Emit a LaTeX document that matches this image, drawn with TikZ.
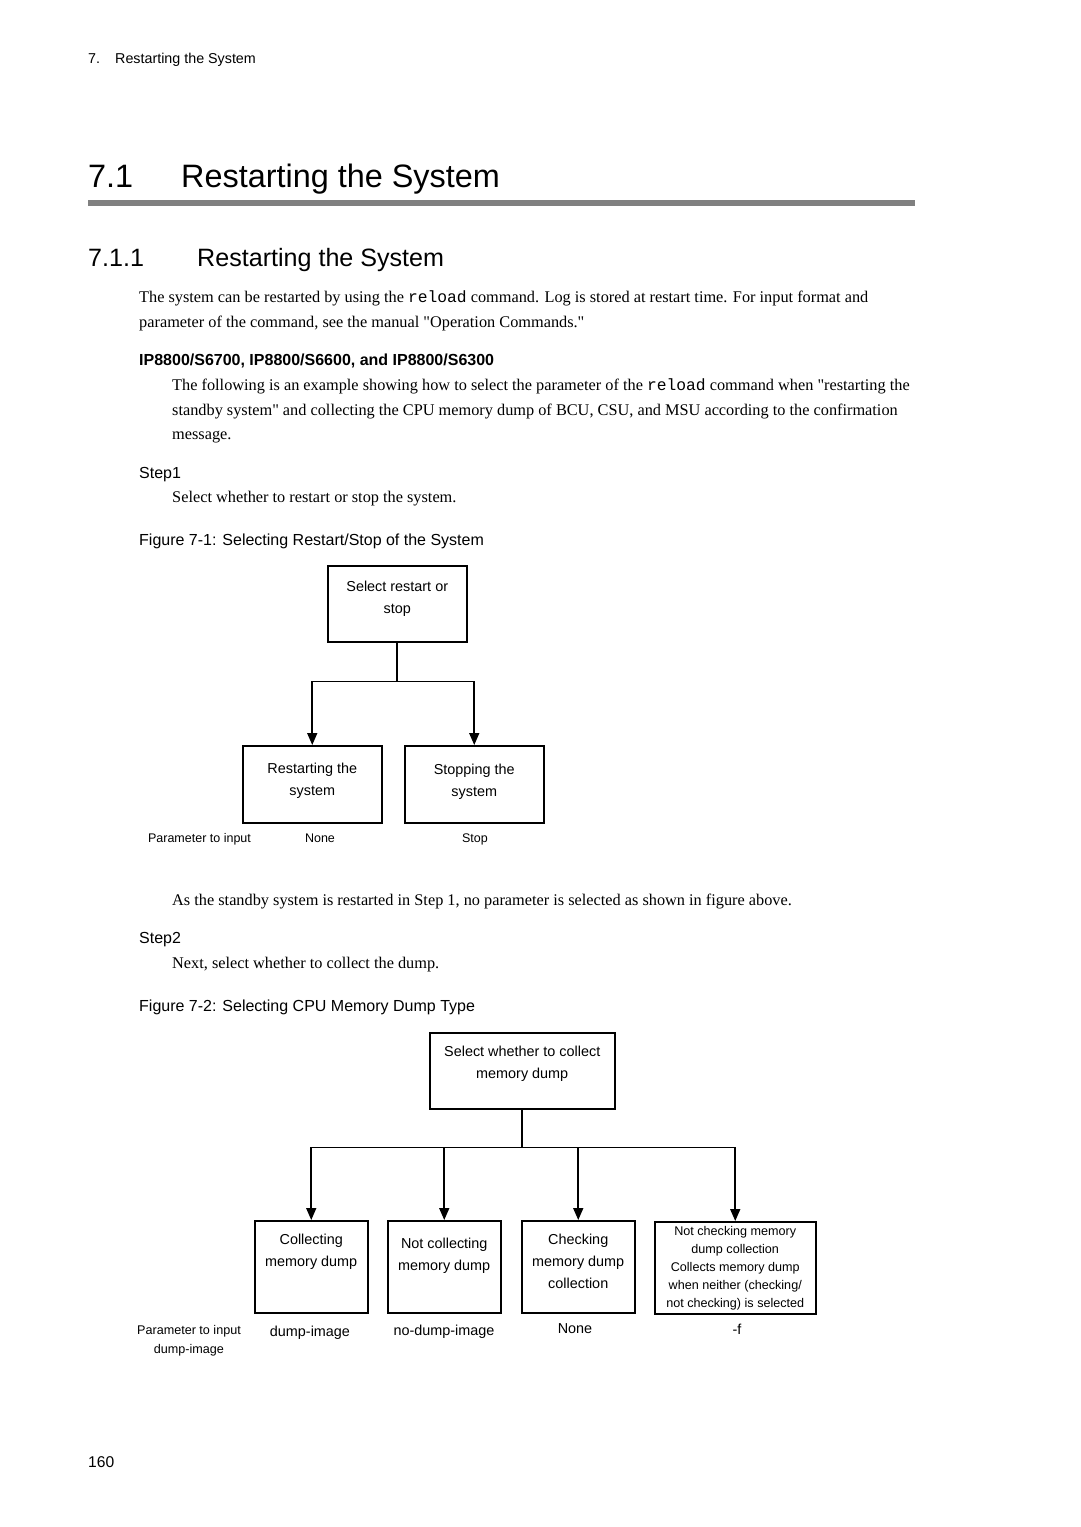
\documentclass[tikz,border=0pt]{standalone}
\usepackage{fontspec}
\setmainfont{Liberation Serif}[Ligatures=TeXOff]
\setsansfont{Liberation Sans}
\setmonofont{Liberation Mono}
\usetikzlibrary{arrows.meta}

\begin{document}
\begin{tikzpicture}
[x=1pt,y=-1pt,
  boxdecorate/.style={shape=rectangle,draw,line width=1.5pt,inner sep=0pt,anchor=north west,align=center,font=\sffamily\fontsize{14.4}{22}\selectfont},%
  linedecorate/.style={-,line width=1.6pt},%
  arrowdecorate/.style={-{Triangle[length=12pt,width=10pt]},line width=1.6pt},%
  bodytext/.style={anchor=base west,inner sep=0pt,font=\fontsize{16.3}{16.3}\selectfont},%
  headtext/.style={anchor=base west,inner sep=0pt,font=\sffamily\fontsize{16}{16}\selectfont},%
  paramtext/.style={anchor=base,inner sep=0pt,font=\sffamily\fontsize{12.5}{19}\selectfont},%
  choicetext/.style={anchor=base,inner sep=0pt,font=\sffamily\fontsize{14.4}{19}\selectfont}]
\fill[white] (0,0) rectangle (1080,1527);
\useasboundingbox (0,0) rectangle (1080,1527);
%% page header and section titles
\node[anchor=base west,inner sep=0pt,font=\sffamily\fontsize{14.3}{14.3}\selectfont] (hdrnum) at (88,63) {7.};
\node[anchor=base west,inner sep=0pt,font=\sffamily\fontsize{14.3}{14.3}\selectfont] (hdrtitle) at (115,63) {Restarting the System};
\node[anchor=base west,inner sep=0pt,font=\sffamily\fontsize{32.4}{32.4}\selectfont] (secnum) at (88,187) {7.1};
\node[anchor=base west,inner sep=0pt,font=\sffamily\fontsize{32.4}{32.4}\selectfont] (sectitle) at (181,187) {Restarting the System};
\fill[black!50] (88,200) rectangle (915,205.5);
\node[anchor=base west,inner sep=0pt,font=\sffamily\fontsize{25.1}{25.1}\selectfont] (subnum) at (88,266) {7.1.1};
\node[anchor=base west,inner sep=0pt,font=\sffamily\fontsize{25.1}{25.1}\selectfont] (subtitle) at (197,266) {Restarting the System};
%% body text lines
\foreach \nodename/\x/\y/\txt in {
  %% introduction
  intro1/139/302/{The system can be restarted by using the \texttt{reload} command. Log is stored at restart time. For input format and},
  intro2/139/327/{parameter of the command, see the manual "Operation Commands."},
  %% model paragraph
  model1/172/390/{The following is an example showing how to select the parameter of the \texttt{reload} command when "restarting the},
  model2/172/415/{standby system" and collecting the CPU memory dump of BCU, CSU, and MSU according to the confirmation},
  model3/172/439/{message.},
  %% steps
  step1text/172/502/{Select whether to restart or stop the system.},
  result1/172/905/{As the standby system is restarted in Step 1, no parameter is selected as shown in figure above.},
  step2text/172/968/{Next, select whether to collect the dump.}} {
  \node[bodytext] (\nodename) at (\x,\y) {\txt};
}
\foreach \nodename/\x/\y/\txt in {
  step1/139/478/{Step1},
  caption1/139/545/{Figure 7-1: Selecting Restart/Stop of the System},
  step2/139/943/{Step2},
  caption2/139/1011/{Figure 7-2: Selecting CPU Memory Dump Type}} {
  \node[headtext] (\nodename) at (\x,\y) {\txt};
}
\node[headtext,font=\sffamily\bfseries\fontsize{16}{16}\selectfont] (models) at (139,365) {IP8800/S6700, IP8800/S6600, and IP8800/S6300};
%% figure 7-1
\node[boxdecorate,minimum width=139,minimum height=76,text depth=13] (selrestart) at (327,565) {Select restart or\\stop};
\node[boxdecorate,minimum width=139,minimum height=77,text depth=10] (restart) at (242,745) {Restarting the\\system};
\node[boxdecorate,minimum width=139,minimum height=77,text depth=8] (stop) at (404,745) {Stopping the\\system};
\draw[linedecorate] (selrestart.south) -- ++(0,39) coordinate (split1);
\foreach \endnode in {restart,stop} {
  \draw[arrowdecorate] (split1) -| (\endnode.north);
}
\node[paramtext] (param1) at (199.5,842) {Parameter to input};
\node[paramtext] (none1) at (320,842) {None};
\node[paramtext] (stop1) at (475,842) {Stop};
%% figure 7-2
\node[boxdecorate,minimum width=185,minimum height=76,text depth=17] (dumpsel) at (429,1032) {Select whether to collect\\memory dump};
\node[boxdecorate,minimum width=113,minimum height=92,text depth=32] (collect) at (254,1220) {Collecting\\memory dump};
\node[boxdecorate,minimum width=113,minimum height=92,text depth=25] (nocollect) at (387,1220) {Not collecting\\memory dump};
\node[boxdecorate,minimum width=113,minimum height=92,text depth=11] (check) at (521,1220) {Checking\\memory dump\\collection};
\node[boxdecorate,minimum width=161,minimum height=92,font=\sffamily\fontsize{12.6}{18}\selectfont] (nocheck) at (654,1221) {Not checking memory\\dump collection\\Collects memory dump\\when neither (checking/\\not checking) is selected};
\draw[linedecorate] (dumpsel.south) -- ++(0,38) coordinate (split2);
\foreach \endnode in {collect,nocollect,check,nocheck} {
  \draw[arrowdecorate] (split2) -| (\endnode.north);
}
\node[paramtext,anchor=north,align=center,font=\sffamily\fontsize{12.6}{19}\selectfont] (param2) at (189,1325) {Parameter to input\\dump-image};
\node[choicetext] (dumpimg) at (310,1336) {dump-image};
\node[choicetext] (nodumpimg) at (444,1335) {no-dump-image};
\node[choicetext] (none2) at (575,1333) {None};
\node[choicetext] (force) at (737,1334) {-f};
%% page number
\node[anchor=base west,inner sep=0pt,font=\sffamily\fontsize{15.6}{15.6}\selectfont] (pagenum) at (88,1467) {160};
\end{tikzpicture}
\end{document}
